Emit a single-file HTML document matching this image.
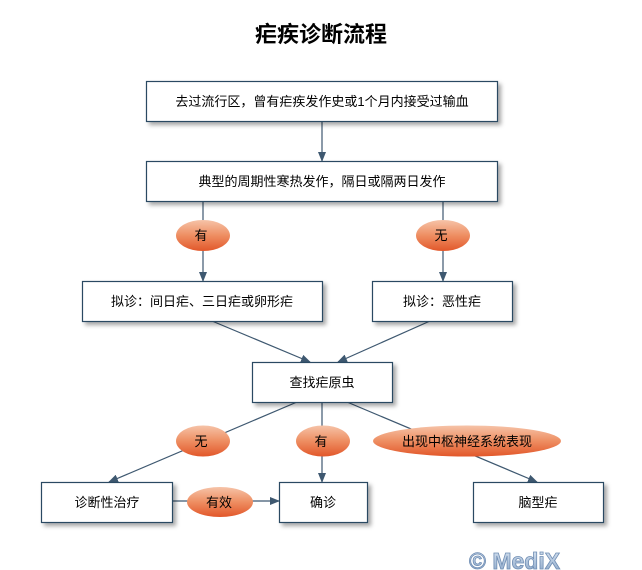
<!DOCTYPE html>
<html><head><meta charset="utf-8"><style>
html,body{margin:0;padding:0;background:#fff;}
svg{display:block;}
text{font-family:"Liberation Sans","Noto Sans CJK SC",sans-serif;}
</style></head><body>
<svg width="642" height="570" viewBox="0 0 642 570" xmlns="http://www.w3.org/2000/svg">
<defs>
<linearGradient id="og" x1="0" y1="0" x2="0" y2="1">
<stop offset="0" stop-color="#f6c3a8"/><stop offset="0.5" stop-color="#ee8e62"/><stop offset="1" stop-color="#e2572a"/></linearGradient>
<linearGradient id="mg" x1="0" y1="0" x2="0" y2="1">
<stop offset="0" stop-color="#dbe6f3"/><stop offset="1" stop-color="#8aa6c8"/></linearGradient>
<filter id="sh" x="-10%" y="-20%" width="130%" height="160%"><feDropShadow dx="3" dy="3" stdDeviation="2" flood-color="#000" flood-opacity="0.35"/></filter>
<marker id="ar" markerWidth="10" markerHeight="10" refX="9" refY="5" orient="auto" markerUnits="userSpaceOnUse"><path d="M0,1 L10,5 L0,9 Z" fill="#3e5870"/></marker>
</defs>
<text x="321" y="42" font-size="22" font-weight="bold" text-anchor="middle" font-family="'Noto Serif CJK SC','WenQuanYi Zen Hei',serif">疟疾诊断流程</text>
<g stroke="#3e5870" stroke-width="1.2" fill="none">
<line x1="322" y1="121" x2="322" y2="161" marker-end="url(#ar)"/>
<line x1="203" y1="202" x2="203" y2="281" marker-end="url(#ar)"/>
<line x1="443" y1="202" x2="443" y2="281" marker-end="url(#ar)"/>
<line x1="212" y1="321" x2="310" y2="362" marker-end="url(#ar)"/>
<line x1="430" y1="321" x2="338" y2="362" marker-end="url(#ar)"/>
<line x1="297" y1="402" x2="109" y2="482" marker-end="url(#ar)"/>
<line x1="322" y1="402" x2="322" y2="482" marker-end="url(#ar)"/>
<line x1="347" y1="402" x2="537" y2="482" marker-end="url(#ar)"/>
<line x1="172" y1="501" x2="279" y2="501" marker-end="url(#ar)"/>
</g>
<g fill="#fff" stroke="#2c4862" stroke-width="1.2" filter="url(#sh)">
<rect x="146.5" y="81.5" width="351" height="40"/>
<rect x="146.5" y="161.5" width="351" height="40"/>
<rect x="82.5" y="281.5" width="240" height="40"/>
<rect x="372.5" y="281.5" width="140" height="40"/>
<rect x="252.5" y="362.5" width="140" height="40"/>
<rect x="41.5" y="482.5" width="131" height="40"/>
<rect x="279.5" y="482.5" width="88" height="40"/>
<rect x="473.5" y="482.5" width="130" height="40"/>
</g>
<g fill="url(#og)">
<ellipse cx="203" cy="235.5" rx="27" ry="15.5"/>
<ellipse cx="443" cy="235.5" rx="27" ry="15.5"/>
<ellipse cx="203" cy="441" rx="27" ry="15.5"/>
<ellipse cx="323" cy="441" rx="27" ry="15.5"/>
<ellipse cx="467" cy="441" rx="94" ry="15.5"/>
<ellipse cx="220" cy="502" rx="33" ry="15"/>
</g>
<g font-size="13" text-anchor="middle" fill="#000">
<text x="322" y="106">去过流行区，曾有疟疾发作史或1个月内接受过输血</text>
<text x="322" y="186">典型的周期性寒热发作，隔日或隔两日发作</text>
<text x="202" y="306">拟诊：间日疟、三日疟或卵形疟</text>
<text x="442" y="306">拟诊：恶性疟</text>
<text x="322" y="387">查找疟原虫</text>
<text x="107" y="507">诊断性治疗</text>
<text x="323" y="507">确诊</text>
<text x="538" y="507">脑型疟</text>
<text x="201" y="240">有</text>
<text x="441" y="240">无</text>
<text x="201" y="446">无</text>
<text x="321" y="446">有</text>
<text x="467" y="446">出现中枢神经系统表现</text>
<text x="219" y="507">有效</text>
</g>
<text x="469" y="569" font-size="23" font-weight="bold" fill="url(#mg)" stroke="#6f8db3" stroke-width="0.8" font-family="'DejaVu Sans',sans-serif">© MediX</text>
</svg>
</body></html>
